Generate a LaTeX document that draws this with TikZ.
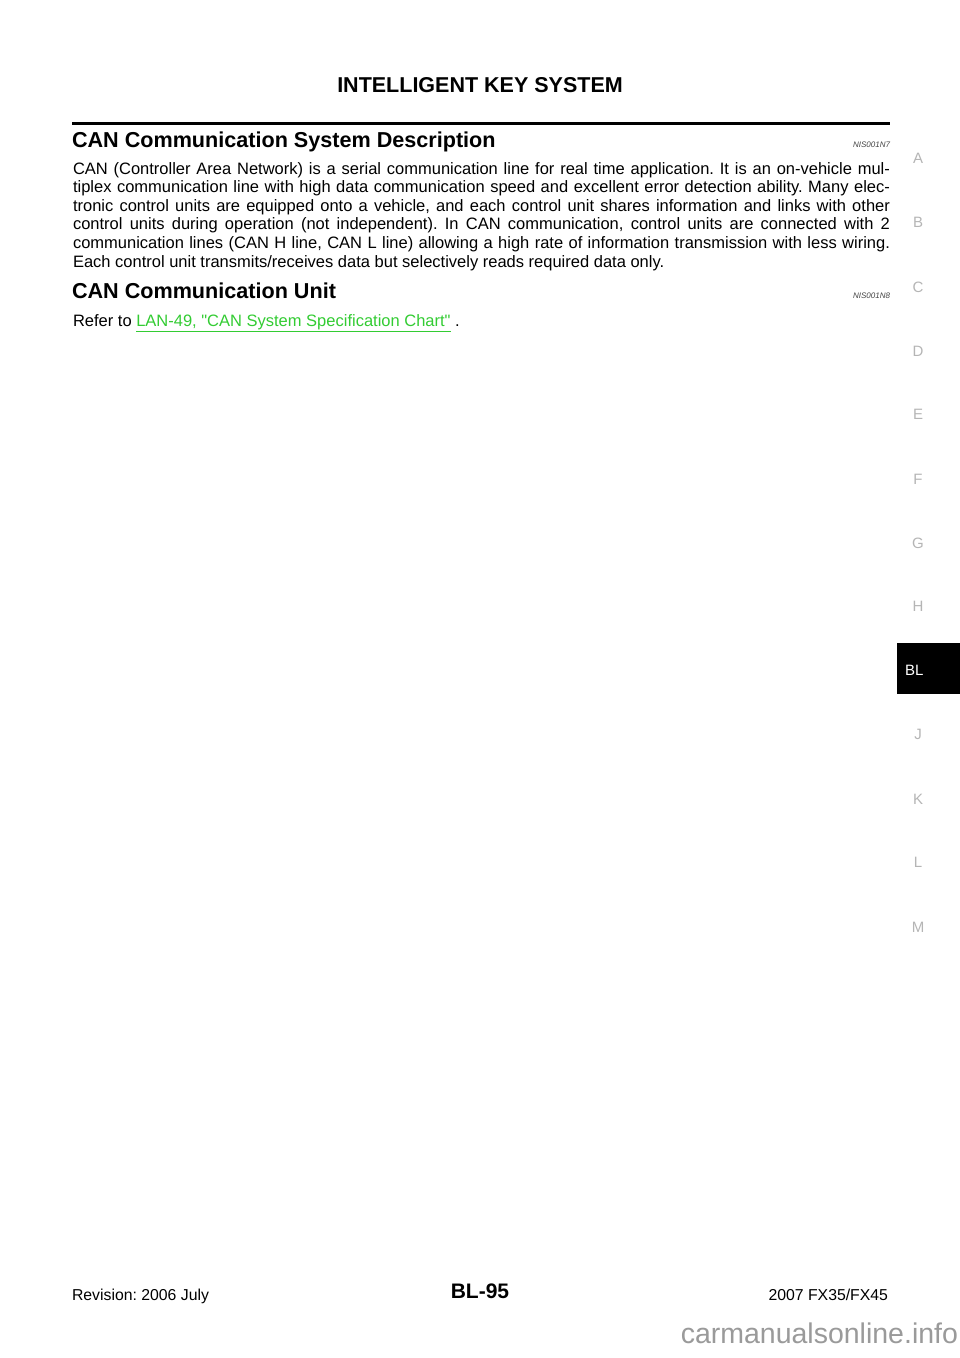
\documentclass[tikz,border=0pt]{standalone}
\usepackage{fontspec}
\setmainfont[Ligatures=TeXOff]{Liberation Sans}
\setsansfont[Ligatures=TeXOff]{Liberation Sans}
\frenchspacing
\definecolor{tabgray}{HTML}{B5B5B5}
\definecolor{linkgreen}{HTML}{33CC33}
\definecolor{wmgray}{HTML}{9A9A9A}
\definecolor{codegray}{HTML}{444444}
\begin{document}
\begin{tikzpicture}[x=1pt,y=-1pt,
  txt/.style={inner sep=0pt,outer sep=0pt},
  body/.style={txt,anchor=base west,font=\fontsize{16.5}{18.6}\selectfont},
  head/.style={txt,anchor=base west,font=\fontsize{21.6}{24}\selectfont\bfseries},
  code/.style={txt,anchor=base east,font=\fontsize{8}{9}\selectfont\itshape,text=codegray},
  tab/.style={txt,anchor=base,font=\fontsize{15}{16}\selectfont,text=tabgray},
  foot/.style={txt,font=\fontsize{15.8}{17}\selectfont}]
\useasboundingbox (0,0) rectangle (960,1358);
\fill[white] (0,0) rectangle (960,1358);
% title
\node[txt,anchor=base,font=\fontsize{21.5}{24}\selectfont\bfseries] (title) at (480,92) {INTELLIGENT KEY SYSTEM};
% rule
\coordinate (rl) at (72,123.5);
\coordinate (rr) at (890,123.5);
\draw[line width=3pt] (rl) -- (rr);
% heading 1
\node[head] (h1) at (72,147) {CAN Communication System Description};
\node[code] (c1) at (890,147) {NIS001N7};
% body
\node[body] (l1) at (73,174) {\hbox to 817pt{CAN (Controller Area Network) is a serial communication line for real time application. It is an on-vehicle mul-}};
\node[body] (l2) at (73,192.6) {\hbox to 817pt{tiplex communication line with high data communication speed and excellent error detection ability. Many elec-}};
\node[body] (l3) at (73,211.2) {\hbox to 817pt{tronic control units are equipped onto a vehicle, and each control unit shares information and links with other}};
\node[body] (l4) at (73,229.8) {\hbox to 817pt{control units during operation (not independent). In CAN communication, control units are connected with 2}};
\node[body] (l5) at (73,248.4) {\hbox to 817pt{communication lines (CAN H line, CAN L line) allowing a high rate of information transmission with less wiring.}};
\node[body] (l6) at (73,267) {Each control unit transmits/receives data but selectively reads required data only.};
% heading 2
\node[head] (h2) at (72,298) {CAN Communication Unit};
\node[code] (c2) at (890,298) {NIS001N8};
\node[body] (ref) at (73,326) {Refer to \textcolor{linkgreen}{\underline{LAN-49, "CAN System Specification Chart"}} .};
% side tabs
\node[tab] (tA) at (918,163) {A};
\node[tab] (tB) at (918,227) {B};
\node[tab] (tC) at (918,292) {C};
\node[tab] (tD) at (918,356) {D};
\node[tab] (tE) at (918,419) {E};
\node[tab] (tF) at (918,484) {F};
\node[tab] (tG) at (918,548) {G};
\node[tab] (tH) at (918,611) {H};
\node[txt,fill=black,minimum width=63pt,minimum height=51pt,anchor=north west] (tBL) at (897,643) {};
\node[txt,anchor=base west,font=\fontsize{15}{16}\selectfont,text=white] (tBLt) at (905,675) {BL};
\node[tab] (tJ) at (918,739) {J};
\node[tab] (tK) at (918,804) {K};
\node[tab] (tL) at (918,867) {L};
\node[tab] (tM) at (918,932) {M};
% footer
\node[foot,anchor=base west] (rev) at (72,1300) {Revision: 2006 July};
\node[txt,anchor=base,font=\fontsize{21}{24}\selectfont\bfseries] (pg) at (480,1298) {BL-95};
\node[foot,anchor=base east] (mdl) at (888,1300) {2007 FX35/FX45};
\node[txt,anchor=base east,font=\fontsize{28.5}{30}\selectfont,text=wmgray] (wm) at (958,1343) {carmanualsonline.info};
\end{tikzpicture}
\end{document}
